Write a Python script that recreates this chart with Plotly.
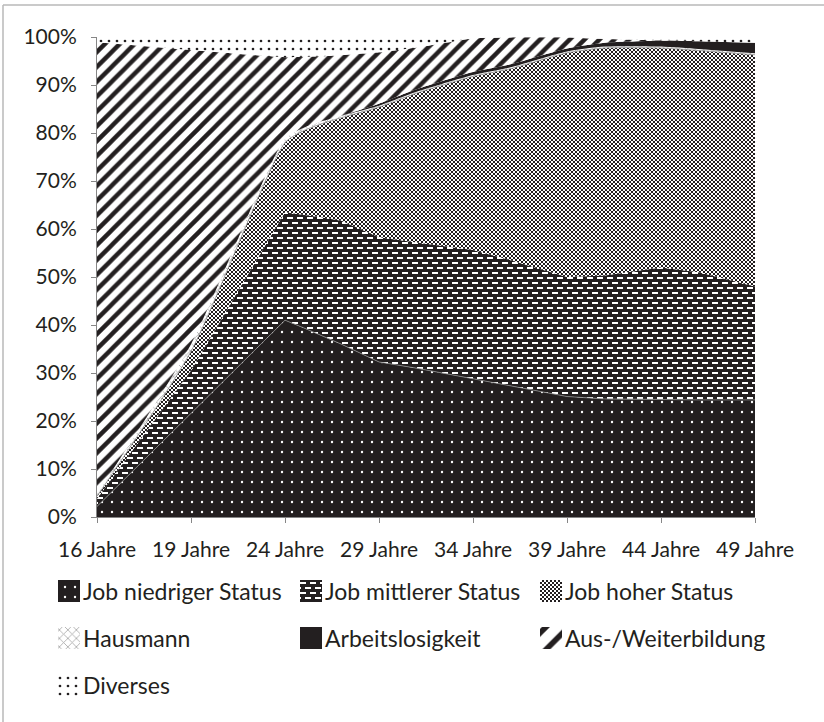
import plotly.graph_objects as go

# ---- data (percent shares) ----
ages = [16, 19, 24, 25, 26, 27, 29, 31, 34, 36, 39, 41, 44, 46, 49]
tick_ages = [16, 19, 24, 29, 34, 39, 44, 49]
tick_labels = ["16 Jahre", "19 Jahre", "24 Jahre", "29 Jahre", "34 Jahre",
               "39 Jahre", "44 Jahre", "49 Jahre"]

job_niedrig = [2.2, 21.5, 41.0, 39.4, 37.7, 36.0, 32.3, 31.0, 28.8, 27.3, 25.1, 24.6, 24.4, 24.4, 24.4]
job_mittel = [1.6, 9.0, 22.5, 23.6, 24.7, 25.7, 26.0, 26.2, 26.8, 26.2, 24.9, 25.7, 27.6, 26.6, 23.6]
job_hoch = [0.5, 4.0, 14.5, 17.5, 19.6, 21.5, 27.1, 31.1, 36.2, 39.9, 46.7, 47.4, 45.7, 46.2, 48.3]
hausmann = [0.5, 1.5, 0.8, 0.6, 0.5, 0.4, 0.3, 0.3, 0.3, 0.3, 0.3, 0.3, 0.3, 0.3, 0.3]
arbeitslos = [0.0, 0.0, 0.0, 0.0, 0.0, 0.0, 0.4, 0.5, 0.6, 0.6, 0.6, 0.8, 1.2, 1.6, 2.2]
ausbildung = [94.1, 61.3, 17.0, 14.8, 13.5, 12.6, 10.7, 8.7, 7.0, 5.6, 2.3, 0.8, 0.1, 0.0, 0.0]
diverses = [1.1, 2.7, 4.2, 4.1, 4.0, 3.8, 3.2, 2.2, 0.3, 0.1, 0.1, 0.4, 0.7, 0.9, 1.2]

y_ticks = [0, 10, 20, 30, 40, 50, 60, 70, 80, 90, 100]

# category axis: 16, then 19, 24, ... equally spaced (5 years per step)
def pos(a):
    return 0.0 if a <= 16 else 1.0 + (a - 19) / 5.0

xs = [pos(a) for a in ages]
tick_pos = [pos(a) for a in tick_ages]

INK = "#231f20"
FONT = "Lato"
FS_TICK = 21
FS_LEG = 23

styles = {
    "Job niedriger Status": dict(shape=".", bgcolor=INK, fgcolor="white", size=10, solidity=0.045, fillmode="replace"),
    "Job mittlerer Status": dict(path="M0,0H6V2H0Z M5,5H10V7H5Z M0,5H1V7H0Z", bgcolor=INK, fgcolor="white", size=10, fillmode="replace"),
    "Job hoher Status": dict(path="M0,0H2V2H0Z M2,2H4V4H2Z", bgcolor="white", fgcolor=INK, size=4, fillmode="replace"),
    "Hausmann": dict(shape="x", bgcolor="white", fgcolor="#a6a6a6", size=6, solidity=0.25, fillmode="replace"),
    "Arbeitslosigkeit": None,
    "Aus-/Weiterbildung": dict(shape="/", bgcolor="white", fgcolor=INK, size=10.5, solidity=0.42, fillmode="replace"),
    "Diverses": dict(shape=".", bgcolor="white", fgcolor=INK, size=8, solidity=0.09, fillmode="replace"),
}
legend_styles = dict(styles)
legend_styles["Aus-/Weiterbildung"] = dict(shape="/", bgcolor="white", fgcolor=INK, size=16, solidity=0.35, fillmode="replace")

series = [
    ("Job niedriger Status", job_niedrig, "linear"),
    ("Job mittlerer Status", job_mittel, "linear"),
    ("Job hoher Status", job_hoch, "spline"),
    ("Hausmann", hausmann, "spline"),
    ("Arbeitslosigkeit", arbeitslos, "spline"),
    ("Aus-/Weiterbildung", ausbildung, "spline"),
    ("Diverses", diverses, "spline"),
]

fig = go.Figure()
for name, vals, shp in series:
    st = styles[name]
    kw = {}
    if st is None:
        kw["fillcolor"] = INK
    else:
        kw["fillcolor"] = st["bgcolor"]
        kw["fillpattern"] = st
    lw = 0.8 if name in ("Job niedriger Status", "Job hoher Status") else 0
    fig.add_trace(go.Scatter(
        x=xs, y=vals, name=name, mode="lines", stackgroup="one",
        line=dict(width=lw, color="#8c8c8c", shape=shp, smoothing=0.6),
        showlegend=False, hoverinfo="skip", **kw))

# ---- custom legend (square patterned swatches) ----
W, H = 824, 722
col_x = [58, 300, 540]
row_y = [591, 638, 685]
SW = 22
for i, (name, _, _) in enumerate(series):
    cx = col_x[i % 3]
    cy = row_y[i // 3]
    st = legend_styles[name]
    kw = {}
    if st is None:
        kw["fillcolor"] = INK
    else:
        kw["fillcolor"] = st["bgcolor"]
        kw["fillpattern"] = st
    fig.add_trace(go.Scatter(
        x=[cx, cx + SW, cx + SW, cx, cx],
        y=[cy - SW / 2, cy - SW / 2, cy + SW / 2, cy + SW / 2, cy - SW / 2],
        fill="toself", mode="lines", line=dict(width=0),
        xaxis="x2", yaxis="y2", showlegend=False, hoverinfo="skip", **kw))
    fig.add_annotation(x=(cx + SW + 1) / W, y=1 - cy / H, xref="paper", yref="paper",
                       text=name, showarrow=False, xanchor="left", yanchor="middle",
                       font=dict(family=FONT, size=FS_LEG, color=INK))

plot_left, plot_right, plot_top, plot_bottom = 97, 755, 37, 517
fig.update_layout(
    template="none",
    width=W, height=H,
    margin=dict(l=0, r=0, t=0, b=0, autoexpand=False),
    paper_bgcolor="white", plot_bgcolor="rgba(0,0,0,0)",
    font=dict(family=FONT, size=FS_TICK, color=INK),
    showlegend=False,
    xaxis=dict(domain=[plot_left / W, plot_right / W], range=[0, 7], automargin=False,
               tickvals=tick_pos, ticktext=tick_labels,
               ticks="outside", ticklen=5, tickcolor="#868686", tickwidth=1,
               showline=True, linecolor="#868686", linewidth=1,
               showgrid=False, zeroline=False, ticklabelstandoff=9,
               tickfont=dict(family=FONT, size=FS_TICK, color=INK)),
    yaxis=dict(domain=[1 - plot_bottom / H, 1 - plot_top / H], range=[0, 100], automargin=False,
               tickvals=y_ticks, ticktext=[f"{v}%" for v in y_ticks],
               ticks="outside", ticklen=5, tickcolor="#868686", tickwidth=1,
               showline=True, linecolor="#868686", linewidth=1,
               showgrid=False, zeroline=False, ticklabelstandoff=10,
               tickfont=dict(family=FONT, size=FS_TICK, color=INK)),
    xaxis2=dict(domain=[0, 1], range=[0, W], visible=False, anchor="y2", automargin=False),
    yaxis2=dict(domain=[0, 160 / H], range=[H, H - 160], visible=False, anchor="x2", automargin=False),
    shapes=[
        dict(type="line", xref="paper", yref="paper", x0=3 / W, x1=1.0, y0=1 - 5 / H, y1=1 - 5 / H,
             line=dict(color="#b8b8b8", width=1.5)),
        dict(type="line", xref="paper", yref="paper", x0=3 / W, x1=3 / W, y0=0, y1=1 - 5 / H,
             line=dict(color="#b8b8b8", width=1.5)),
    ],
)

fig.write_html("out.html", config={"displayModeBar": False},
               post_script="document.body.style.margin='0';")
